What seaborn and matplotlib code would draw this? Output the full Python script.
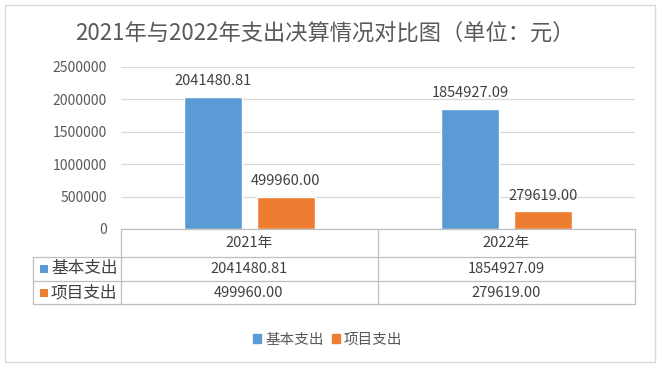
import matplotlib
matplotlib.use("Agg")
import matplotlib.pyplot as plt
import seaborn as sns
import pandas as pd
from matplotlib.lines import Line2D
from matplotlib.patches import Rectangle

years = ["2021年", "2022年"]
series = ["基本支出", "项目支出"]
basic = [2041480.81, 1854927.09]
project = [499960.00, 279619.00]
yticks = [0, 500000, 1000000, 1500000, 2000000, 2500000]
title = "2021年与2022年支出决算情况对比图（单位：元）"
colors = ["#5B9BD5", "#ED7D31"]

sns.set_theme(style="white")
plt.rcParams["font.family"] = ["Noto Sans CJK SC", "DejaVu Sans"]

df = pd.DataFrame({
    "year": years * 2,
    "series": [series[0]] * 2 + [series[1]] * 2,
    "value": basic + project,
})

W, H = 662, 372
fig = plt.figure(figsize=(W / 100, H / 100), dpi=100)

def fx(x):
    return x / W

def fy(y):
    return 1 - y / H

ax = fig.add_axes([fx(121), fy(229), fx(635) - fx(121), fy(67) - fy(229)])
sns.barplot(data=df, x="year", y="value", hue="series", palette=colors,
            width=0.566, gap=0.21, ax=ax, legend=False, saturation=1)
ax.set_ylim(0, 2500000)
ax.set_xlim(-0.5, 1.5)
ax.set_yticks(yticks)
ax.set_yticklabels([str(v) for v in yticks], color="#595959", fontsize=10)
ax.tick_params(axis="y", length=0, pad=10)
ax.tick_params(axis="x", length=0, labelbottom=False)
ax.set_xlabel("")
ax.set_ylabel("")
ax.grid(axis="y", color="#D9D9D9", linewidth=0.9)
ax.set_axisbelow(True)
for s in ax.spines.values():
    s.set_visible(False)

for cont in ax.containers:
    labels = [f"{v:.2f}" for v in cont.datavalues]
    ax.bar_label(cont, labels=labels, padding=6, fontsize=10.5, color="#404040")

# outer border
fig.add_artist(Rectangle((fx(5), fy(362)), fx(655) - fx(5), fy(5) - fy(362),
                         transform=fig.transFigure, fill=False,
                         edgecolor="#D9D9D9", linewidth=1))

fig.text(fx(325), fy(33), title, ha="center", va="center", fontsize=16,
         color="#595959")

# data table
lc = "#BFBFBF"
def hline(y, x0, x1):
    fig.add_artist(Line2D([fx(x0), fx(x1)], [fy(y), fy(y)], color=lc, lw=0.9,
                          transform=fig.transFigure))

def vline(x, y0, y1):
    fig.add_artist(Line2D([fx(x), fx(x)], [fy(y0), fy(y1)], color=lc, lw=0.9,
                          transform=fig.transFigure))

hline(229, 121, 635)
hline(257, 33, 635)
hline(281, 33, 635)
hline(304, 33, 635)
vline(33, 257, 304)
vline(121, 229, 304)
vline(378, 229, 304)
vline(635, 229, 304)

col_x = [249, 506]
for i, yr in enumerate(years):
    fig.text(fx(col_x[i]), fy(243), yr, ha="center", va="center",
             fontsize=10.5, color="#404040")
rows = [basic, project]
row_y = [269, 293]
for r, (name, vals) in enumerate(zip(series, rows)):
    fig.add_artist(Rectangle((fx(40), fy(row_y[r] + 4)), fx(8), 8 / H,
                             transform=fig.transFigure, facecolor=colors[r],
                             edgecolor="none"))
    fig.text(fx(51), fy(row_y[r]), name, ha="left", va="center",
             fontsize=12, color="#404040")
    for i, v in enumerate(vals):
        fig.text(fx(col_x[i]), fy(row_y[r]), f"{v:.2f}", ha="center",
                 va="center", fontsize=10.5, color="#404040")

# legend
handles = [Rectangle((0, 0), 1, 1, color=c) for c in colors]
fig.legend(handles, series, loc="center", bbox_to_anchor=(fx(328), fy(340)),
           ncol=2, frameon=False, fontsize=10.5, handlelength=0.55,
           handleheight=0.55, handletextpad=0.3, columnspacing=0.5,
           labelcolor="#595959")

fig.savefig("out.png", dpi=100)
